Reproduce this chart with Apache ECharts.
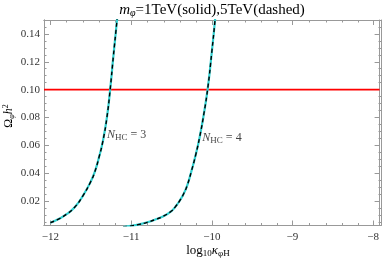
<!DOCTYPE html>
<html><head><meta charset="utf-8">
<script src="https://cdn.jsdelivr.net/npm/echarts@6/dist/echarts.min.js"></script>
<style>html,body{margin:0;padding:0;background:#fff}#c{width:382px;height:262px}</style>
</head><body><div id="c"></div>
<script>
// ---- data ----
const curve3X = [-12.0, -11.9, -11.8, -11.7, -11.6, -11.5, -11.45, -11.4, -11.35, -11.3, -11.26, -11.22, -11.175, -11.16];
const curve3Y = [0.0044, 0.0070, 0.0105, 0.0155, 0.0235, 0.034, 0.041, 0.051, 0.063, 0.080, 0.100, 0.124, 0.150, 0.160];
const curve4X = [-11.1, -11.0, -10.9, -10.8, -10.7, -10.6, -10.5, -10.45, -10.4, -10.35, -10.3, -10.25, -10.2, -10.15, -10.1, -10.05, -10.0, -9.96, -9.94];
const curve4Y = [0.0013, 0.0021, 0.0032, 0.0047, 0.0067, 0.0091, 0.0128, 0.0160, 0.0200, 0.0250, 0.032, 0.042, 0.053, 0.066, 0.082, 0.101, 0.127, 0.150, 0.165];
const refLineY = 0.1;
const xTicks = [-12, -11, -10, -9, -8];
const yTicks = [0.02, 0.04, 0.06, 0.08, 0.10, 0.12, 0.14];
const curveLabels = ['3', '4'];
const labelAnchorX = [-11.30, -10.117];
const labelAnchorY = [0.0674, 0.0652];

const X_MIN = -12.08, X_MAX = -7.92, Y_MIN = 0.0024, Y_MAX = 0.15;
const xMinor = [], yMinor = [];
for (let i = 0; i <= 20; i++) { const v = +(-12 + i * 0.2).toFixed(2); if (xTicks.indexOf(v) < 0) xMinor.push(v); }
for (let i = 1; i <= 29; i++) { const v = +(i * 0.005).toFixed(3); if (yTicks.every(t => Math.abs(t - v) > 1e-9)) yMinor.push(v); }

const zip = (a, b) => a.map((v, i) => [v, b[i]]);
const FONT = 'Liberation Serif';
const frameColor = '#999';
const labelColor = '#333';

function xAxisDef(pos, vals, len, showLabel, grid) {
  return {
    type: 'value', gridIndex: grid, position: pos, min: X_MIN, max: X_MAX,
    axisLine: { show: true, lineStyle: { color: frameColor, width: 1 } },
    axisTick: { show: true, inside: true, length: len, customValues: vals, lineStyle: { color: frameColor } },
    axisLabel: showLabel ? { show: true, customValues: vals, margin: 6, color: labelColor, fontFamily: FONT, fontSize: 11,
      formatter: v => String(v).replace('-', '\u2212') } : { show: false },
    splitLine: { show: false }
  };
}
function yAxisDef(pos, vals, len, showLabel, grid) {
  return {
    type: 'value', gridIndex: grid, position: pos, min: Y_MIN, max: Y_MAX,
    axisLine: { show: true, lineStyle: { color: frameColor, width: 1 } },
    axisTick: { show: true, inside: true, length: len, customValues: vals, lineStyle: { color: frameColor } },
    axisLabel: showLabel ? { show: true, customValues: vals, margin: 4, color: labelColor, fontFamily: FONT, fontSize: 11,
      formatter: v => v.toFixed(2) } : { show: false },
    splitLine: { show: false }
  };
}

const gridBox = { left: 44, right: 1, top: 20, bottom: 36.5 };
const lineSeries = (xs, ys, color, width, type, z) => ({
  type: 'line', xAxisIndex: 0, yAxisIndex: 0, data: zip(xs, ys), smooth: 0.5,
  showSymbol: false, symbol: 'none', clip: true, z: z, silent: true,
  lineStyle: { color: color, width: width, type: type, cap: 'butt', join: 'round' }
});

const richLbl = {
  i: { fontFamily: FONT, fontStyle: 'italic', fontSize: 12, color: '#111' },
  s: { fontFamily: FONT, fontSize: 9, color: '#111', padding: [5, 0, 0, 0] },
  n: { fontFamily: FONT, fontSize: 12, color: '#111' }
};

const chart = echarts.init(document.getElementById('c'), null, { renderer: 'canvas' });
chart.setOption({
  animation: false,
  backgroundColor: '#fff',
  grid: [Object.assign({}, gridBox), Object.assign({}, gridBox)],
  xAxis: [
    xAxisDef('bottom', xTicks, 5, true, 0),
    xAxisDef('top', xTicks, 5, false, 0),
    xAxisDef('bottom', xMinor, 2.5, false, 1),
    xAxisDef('top', xMinor, 2.5, false, 1)
  ],
  yAxis: [
    yAxisDef('left', yTicks, 5, true, 0),
    yAxisDef('right', yTicks, 5, false, 0),
    yAxisDef('left', yMinor, 2.5, false, 1),
    yAxisDef('right', yMinor, 2.5, false, 1)
  ],
  series: [
    { type: 'line', xAxisIndex: 0, yAxisIndex: 0, data: [[X_MIN, refLineY], [X_MAX, refLineY]], symbol: 'none', showSymbol: false,
      lineStyle: { color: '#ff0000', width: 1.6 }, z: 2, silent: true },
    lineSeries(curve3X, curve3Y, '#30d0d0', 2.2, 'solid', 3),
    lineSeries(curve3X, curve3Y, '#000', 1.4, [4, 3], 4),
    lineSeries(curve4X, curve4Y, '#30d0d0', 2.2, 'solid', 3),
    lineSeries(curve4X, curve4Y, '#000', 1.4, [4, 3], 4),
    { type: 'scatter', xAxisIndex: 0, yAxisIndex: 0, symbolSize: 0, silent: true, z: 5,
      data: labelAnchorX.map((x, i) => ({ value: [x, labelAnchorY[i]], name: curveLabels[i] })),
      label: { show: true, position: 'right', distance: 0,
        formatter: p => '{i|N}{s|HC}{n| = ' + p.name + '}', rich: richLbl } }
  ],
  graphic: [
    { type: 'text', x: 212, y: 10, style: {
      text: '{i|m}{s|\u03c6}{n|=1TeV(solid),5TeV(dashed)}',
      align: 'center', verticalAlign: 'middle',
      rich: {
        i: { fontFamily: FONT, fontStyle: 'italic', fontSize: 15, color: '#222' },
        s: { fontFamily: FONT, fontStyle: 'italic', fontSize: 10, color: '#222', padding: [7, 0, 0, 0] },
        n: { fontFamily: FONT, fontSize: 15, color: '#222' }
      } } },
    { type: 'text', x: 208, y: 251, style: {
      text: '{n|log}{s|10}{i|\u03ba}{s|\u03c6H}',
      align: 'center', verticalAlign: 'middle',
      rich: {
        n: { fontFamily: FONT, fontSize: 13, color: '#333' },
        i: { fontFamily: FONT, fontStyle: 'italic', fontSize: 13, color: '#333' },
        s: { fontFamily: FONT, fontSize: 9, color: '#333', padding: [6, 0, 0, 0] }
      } } },
    { type: 'text', x: 9, y: 116, rotation: Math.PI / 2, style: {
      text: '{n|\u03a9}{s|\u03c6}{i|h}{p|2}',
      align: 'center', verticalAlign: 'middle',
      rich: {
        n: { fontFamily: FONT, fontSize: 12, color: '#333' },
        i: { fontFamily: FONT, fontStyle: 'italic', fontSize: 12, color: '#333' },
        s: { fontFamily: FONT, fontStyle: 'italic', fontSize: 8, color: '#333', padding: [6, 0, 0, 0] },
        p: { fontFamily: FONT, fontSize: 8, color: '#333', padding: [0, 0, 6, 0] }
      } } }
  ]
});
</script>
</body></html>
